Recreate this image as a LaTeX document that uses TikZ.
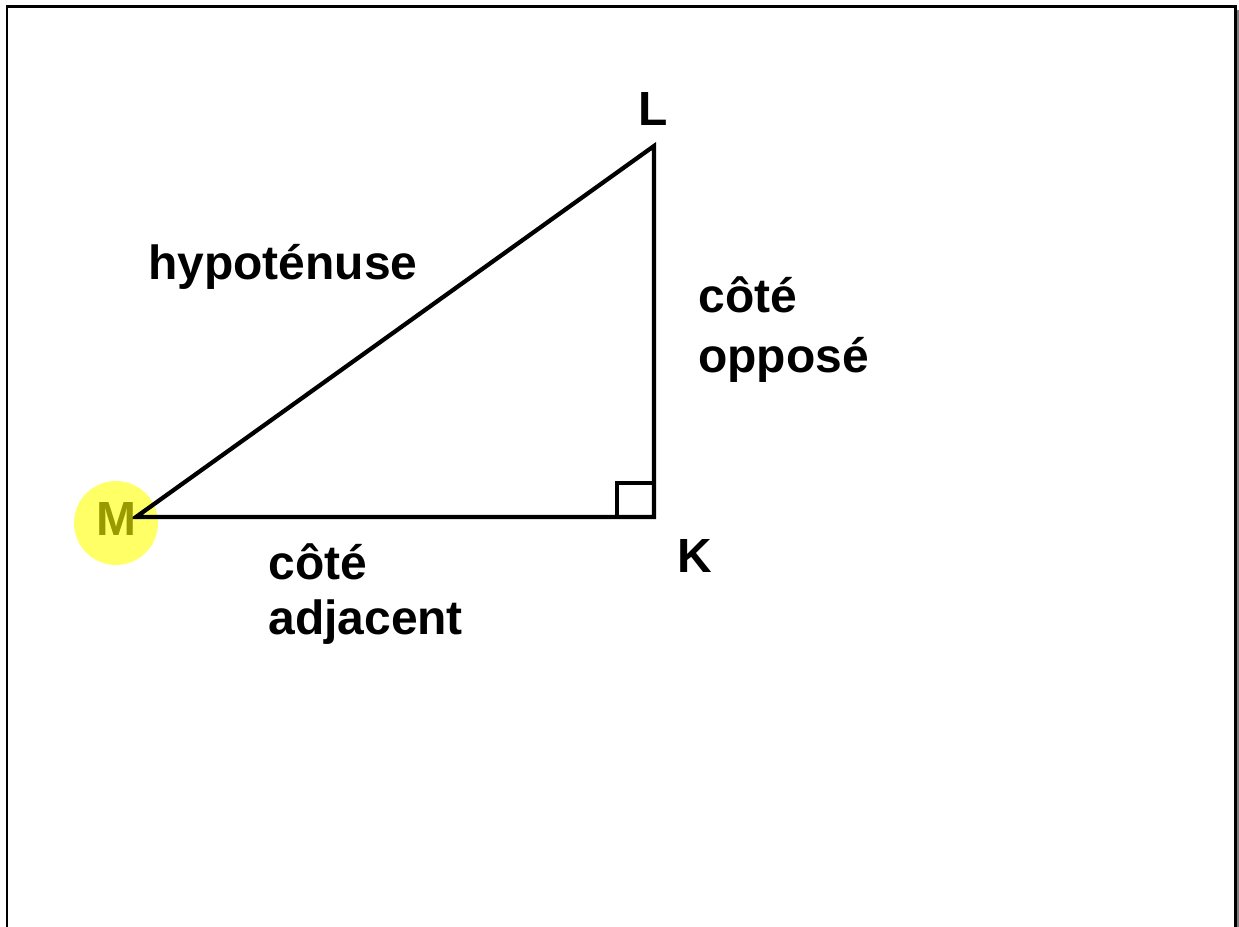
\documentclass[tikz,border=0pt]{standalone}
\usepackage{fontspec}
\setmainfont{Liberation Sans}
\definecolor{hilite}{HTML}{FFFF66}
\definecolor{olive}{HTML}{999900}
\definecolor{shadow}{HTML}{808080}
\usetikzlibrary{positioning}

\begin{document}
\begin{tikzpicture}[
    x=0.02cm, y=-0.02cm,
    edge/.style={draw, line width=0.085cm},
    frame/.style={draw, line width=0.06cm},
    lbl/.style={inner sep=0pt, anchor=base west, align=left,
      font=\fontsize{27.3}{34}\selectfont\bfseries},
  ]
  \useasboundingbox (0,0) rectangle (1239,926);
  % page frame, open at the bottom
  \draw[frame] (7,960) -- (7,7) -- (1235,7) -- (1235,960);
  \draw[line width=0.06cm, shadow] (1238,10) -- (1238,960);

  % vertices
  \coordinate (M) at (136,517);
  \coordinate (K) at (654,517);
  \coordinate (L) at (654,146);

  \fill[hilite] (116,523) circle (42);

  \draw[edge] (M) -- (K) -- (L) -- cycle;
  \draw[line width=0.08cm] ([xshift=-0.74cm]K) |- ([xshift=0.04cm, yshift=0.68cm]K);

  \node[lbl] (Ltxt) at (638,125) {L};
  \node[lbl] (Ktxt) at (677,572) {K};
  \node[lbl, text=olive] (Mtxt) at (96,535) {M};

  % two-line labels: base is the last line
  \node[lbl] (hyp) at (148,279) {hypoténuse};
  \node[lbl] (opp) at (698,372) {côté\\[0pt]opposé};
  \node[lbl] (adj) at (268,634) {côté\\[-3pt]adjacent};
\end{tikzpicture}
\end{document}
